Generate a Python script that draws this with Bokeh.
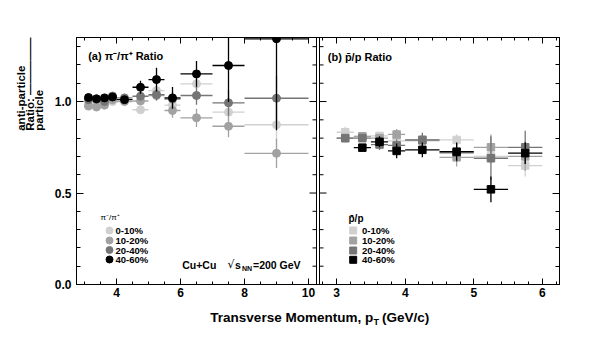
import numpy as np
from bokeh.plotting import figure
from bokeh.models import (Label, LinearAxis, FixedTicker, NumeralTickFormatter, Range1d,
                          CustomJSTickFormatter, Span, SingleIntervalTicker, Title)
from bokeh.layouts import column
from bokeh.embed import file_html
from bokeh.resources import INLINE

# ---------------- data ----------------
centralities = ["0-10%", "10-20%", "20-40%", "40-60%"]

# panel (a): pi-/pi+ ratio
pi_pt = [3.125, 3.375, 3.625, 3.875, 4.25, 4.75, 5.25, 5.75, 6.5, 7.5, 9.0]
pi_pt_hw = [0.125, 0.125, 0.125, 0.125, 0.25, 0.25, 0.25, 0.25, 0.5, 0.5, 1.0]
pi_c0 = [0.99, 0.985, 0.99, 1.0, 1.01, 0.955, 1.06, 0.98, 1.097, 0.942, 0.873]
pi_c0_err = [0.01, 0.01, 0.01, 0.01, 0.01, 0.02, 0.03, 0.03, 0.04, 0.05, 0.15]
pi_c1 = [0.975, 0.97, 0.98, 1.01, 1.0, 1.003, 1.033, 0.951, 0.911, 0.865, 0.717]
pi_c1_err = [0.01, 0.01, 0.01, 0.01, 0.01, 0.02, 0.03, 0.04, 0.05, 0.06, 0.08]
pi_c2 = [1.01, 1.012, 1.0, 1.03, 1.02, 1.029, 1.038, 1.014, 1.033, 0.993, 1.018]
pi_c2_err = [0.01, 0.01, 0.01, 0.01, 0.01, 0.02, 0.03, 0.04, 0.05, 0.07, 0.12]
pi_c3 = [1.022, 1.015, 1.02, 1.025, 1.01, 1.078, 1.12, 1.02, 1.151, 1.197, 1.343]
pi_c3_err = [0.01, 0.01, 0.01, 0.01, 0.01, 0.036, 0.065, 0.06, 0.07, 0.2, 0.5]

# panel (b): pbar/p ratio
p_pt = [3.125, 3.375, 3.625, 3.875, 4.25, 4.75, 5.25, 5.75]
p_pt_hw = [0.125, 0.125, 0.125, 0.125, 0.25, 0.25, 0.25, 0.25]
p_c0 = [0.832, 0.809, 0.812, 0.785, 0.792, 0.79, 0.70, 0.65]
p_c0_err = [0.03, 0.02, 0.02, 0.03, 0.03, 0.03, 0.04, 0.06]
p_c1 = [0.80, 0.81, 0.80, 0.82, 0.787, 0.695, 0.75, 0.70]
p_c1_err = [0.02, 0.02, 0.02, 0.03, 0.03, 0.05, 0.07, 0.08]
p_c2 = [0.80, 0.80, 0.765, 0.76, 0.79, 0.72, 0.69, 0.75]
p_c2_err = [0.02, 0.02, 0.03, 0.03, 0.04, 0.05, 0.12, 0.09]
p_c3_pt = [3.375, 3.625, 3.875, 4.25, 4.75, 5.25, 5.75]
p_c3_hw = [0.125, 0.125, 0.125, 0.25, 0.25, 0.25, 0.25]
p_c3 = [0.748, 0.78, 0.73, 0.736, 0.726, 0.52, 0.718]
p_c3_err = [0.02, 0.03, 0.04, 0.04, 0.05, 0.07, 0.06]

# tick values
a_major = [4, 6, 8, 10]
a_minor_step = 0.5
b_major = [3, 4, 5, 6]
b_minor_step = 0.2
y_major = [0.0, 0.5, 1.0]
y_minor_step = 0.1

colors = ["#d0d0d0", "#a2a2a2", "#757575", "#000000"]

# ---------------- geometry (one figure, two panels side by side) ----------------
PH = 310                                # height of the panel figure
FL, FR, FT, FBOT = 76, 559, 37, 284     # frame edges in px
A0, A_PX = 2.75, 32.0                   # panel (a): x start, px per GeV/c
B0, B_PX, B_L = 2.75, 240 / 3.5, 319    # panel (b): x start, px per GeV/c, left edge px
A_R = 316                               # right edge of panel (a)
Y_TOP = 1.35
FONT = "Liberation Sans"


def ax(px):
    return A0 + (px - FL) / A_PX


def ay(py):
    return Y_TOP * (FBOT - py) / (FBOT - FT)


def b2a(xb):
    return ax(B_L + (xb - B0) * B_PX)


p = figure(width=600, height=PH, x_range=Range1d(A0, ax(FR)), y_range=Range1d(0, Y_TOP),
           output_backend="svg", toolbar_location=None, x_axis_location=None,
           y_axis_location=None, min_border_left=FL, min_border_right=600 - FR,
           min_border_top=FT, min_border_bottom=PH - FBOT)
p.extra_x_ranges = {"b": Range1d(B0 - (B_L - FL) / B_PX, B0 - (B_L - FL) / B_PX + (FR - FL) / B_PX)}
p.grid.visible = False
p.outline_line_color = "black"
p.outline_line_width = 1
p.background_fill_color = "white"
p.border_fill_color = "white"

# ---- x ticks of both panels on one axis (in panel-a coordinates) ----
a_minor_all = [v for v in np.arange(3.0, 10.25, a_minor_step) if v not in a_major]
b_minor_all = [v for v in np.round(np.arange(2.8, 6.25, b_minor_step), 2) if v not in b_major]
x_ticker = FixedTicker(ticks=list(a_major) + [b2a(v) for v in b_major],
                       minor_ticks=list(a_minor_all) + [b2a(v) for v in b_minor_all])
y_ticker = SingleIntervalTicker(interval=0.5, num_minor_ticks=5)

x_fmt = CustomJSTickFormatter(args=dict(lim=ax(A_R + 1), a0=ax(B_L), b0=B0, sc=B_PX / A_PX),
                              code="""
if (tick > lim) { return String(Math.round((tick - a0) / sc + b0)); }
return String(Math.round(tick));
""")
blank = CustomJSTickFormatter(code="return '';")

bottom = LinearAxis(ticker=x_ticker, formatter=x_fmt)
top = LinearAxis(ticker=x_ticker, formatter=blank)
left = LinearAxis(ticker=y_ticker, formatter=NumeralTickFormatter(format="0.0"))
right = LinearAxis(ticker=y_ticker, formatter=blank)
p.add_layout(bottom, "below")
p.add_layout(top, "above")
p.add_layout(left, "left")
p.add_layout(right, "right")
for a, tin, mtin in [(bottom, 6, 3), (top, 6, 3), (left, 7, 4), (right, 7, 4)]:
    a.major_tick_in, a.major_tick_out = tin, 0
    a.minor_tick_in, a.minor_tick_out = mtin, 0
    a.axis_line_color = "black"
    a.major_tick_line_color = "black"
    a.minor_tick_line_color = "black"
    a.major_label_text_font = FONT
    a.major_label_text_font_style = "bold"
    a.major_label_text_color = "black"
    a.major_label_text_font_size = "12px"
    a.major_label_standoff = 0
bottom.major_label_standoff = 3
left.major_label_standoff = 5

# ---- y-axis title: vertical, as a side title of the figure ----
ytitle = Title(text="anti-particle\nRatio: \u2014\u2014\u2014\u2014\u2014\nparticle\u2002\u00a0",
               align="right", vertical_align="middle", offset=0, standoff=12,
               text_font=FONT, text_font_size="11.5px", text_font_style="bold",
               text_color="black", text_line_height=0.72)
p.add_layout(ytitle, "left")

# ---- inner edges of the two panels ----
for px in (A_R, B_L):
    p.add_layout(Span(location=ax(px), dimension="height", line_color="black", line_width=1))
y_min = [v for v in np.round(np.arange(0.1, Y_TOP, y_minor_step), 2) if v not in y_major]
for px, sgn in ((A_R, -1), (B_L, 1)):
    p.segment(x0=[ax(px)] * len(y_major), x1=[ax(px + sgn * 7)] * len(y_major),
              y0=y_major, y1=y_major, line_color="black", line_width=1)
    p.segment(x0=[ax(px)] * len(y_min), x1=[ax(px + sgn * 4)] * len(y_min),
              y0=y_min, y1=y_min, line_color="black", line_width=1)


def series(x, hw, y, err, color, marker, rng="default"):
    x = np.array(x); hw = np.array(hw); y = np.array(y); err = np.array(err)
    p.segment(x0=x - hw, x1=x + hw, y0=y, y1=y, line_color=color, line_width=1.3, x_range_name=rng)
    p.segment(x0=x, x1=x, y0=y - err, y1=y + err, line_color=color, line_width=1.3, x_range_name=rng)
    p.scatter(x=x, y=y, marker=marker, size=8 if marker == "circle" else 7.5,
              fill_color=color, line_color=color, x_range_name=rng)


def label(px, py, text, size, style="bold", align="left", font=FONT):
    p.add_layout(Label(x=ax(px), y=ay(py), text=text, text_font=font, text_font_size=size,
                       text_font_style=style, text_align=align, text_baseline="middle",
                       text_color="black"))


# ---------------- panel (a) ----------------
for (yv, ev), c in zip([(pi_c0, pi_c0_err), (pi_c1, pi_c1_err), (pi_c2, pi_c2_err), (pi_c3, pi_c3_err)], colors):
    series(pi_pt, pi_pt_hw, yv, ev, c, "circle")

label(87.7, 55, "(a) \u03c0\u207b/\u03c0\u207a Ratio", "11px")
label(100, 216.7, "\u03c0\u207b/\u03c0\u207a", "8px", style="normal")
leg_y = [230, 240, 249.5, 259]
for i, (c, t) in enumerate(zip(colors, centralities)):
    p.scatter(x=[ax(109)], y=[ay(leg_y[i])], marker="circle", size=7, fill_color=c, line_color=c)
    label(115, leg_y[i], t, "9.5px")
label(181.7, 264.3, "Cu+Cu", "10.5px")
label(234, 264.3, "\u221a", "11px", style="normal", align="right", font="DejaVu Sans")
label(234.5, 264.3, "s", "10.5px")
label(241.5, 267.5, "NN", "7px")
label(252.5, 264.3, "=200 GeV", "10.5px")

# ---------------- panel (b) ----------------
for (xv, hv, yv, ev), c in zip([(p_pt, p_pt_hw, p_c0, p_c0_err), (p_pt, p_pt_hw, p_c1, p_c1_err),
                                (p_pt, p_pt_hw, p_c2, p_c2_err), (p_c3_pt, p_c3_hw, p_c3, p_c3_err)], colors):
    series(xv, hv, yv, ev, c, "square", rng="b")

label(327.3, 56, "(b) p\u0304/p Ratio", "11px")
label(348, 218.3, "p\u0304/p", "10px")
leg_y2 = [230, 240, 250, 259.3]
for i, (c, t) in enumerate(zip(colors, centralities)):
    p.scatter(x=[ax(352.7)], y=[ay(leg_y2[i])], marker="square", size=7, fill_color=c, line_color=c)
    label(361.5, leg_y2[i], t, "9.5px")

# ---------------- x-axis title strip ----------------
SH = 355 - PH
fx = figure(width=600, height=SH, x_range=Range1d(0, 600), y_range=Range1d(0, SH),
            output_backend="svg", toolbar_location=None, min_border=0)
fx.axis.visible = False
fx.grid.visible = False
fx.outline_line_color = None
for xx, yy, txt, sz, al in [(368.5, 317, "Transverse Momentum, p", "13.5px", "right"),
                            (372.3, 321, "T", "9px", "center"),
                            (379.5, 317, "(GeV/c)", "13.5px", "left")]:
    fx.add_layout(Label(x=xx, y=SH - (yy - PH), text=txt, text_font=FONT, text_font_size=sz,
                        text_font_style="bold", text_align=al, text_baseline="middle",
                        text_color="black"))

open("out.html", "w").write(file_html(column(p, fx), INLINE))
